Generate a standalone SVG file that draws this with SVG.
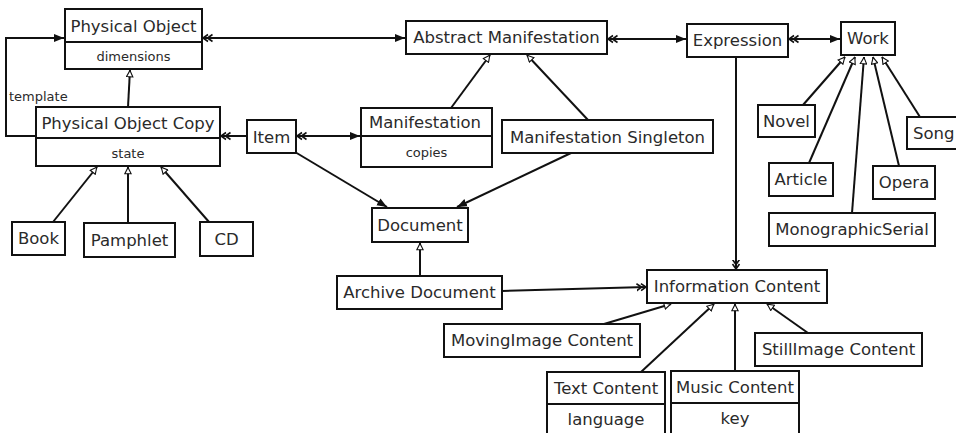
<svg xmlns="http://www.w3.org/2000/svg" width="956" height="433" viewBox="0 0 956 433">
<style>
.box{fill:#fff;stroke:#111;stroke-width:2}
.div{stroke:#111;stroke-width:2}
.t{font-family:"DejaVu Sans",sans-serif;font-size:16.5px;fill:#2a2a2a;text-anchor:middle;dominant-baseline:central}
.s{font-family:"DejaVu Sans",sans-serif;font-size:13px;fill:#2a2a2a;text-anchor:middle;dominant-baseline:central}
.c{fill:none;stroke:#111;stroke-width:2}
.f{marker-end:url(#fill)}
.g{marker-end:url(#gen)}
.d{marker-end:url(#dbl)}
.ds{marker-start:url(#dbl)}
</style>
<defs>
<marker id="fill" viewBox="0 0 10 10" refX="10" refY="5" markerWidth="10" markerHeight="10" markerUnits="userSpaceOnUse" orient="auto-start-reverse">
<path d="M0,1 L10,5 L0,9 z" fill="#111"/>
</marker>
<marker id="gen" viewBox="0 0 10 10" refX="9.5" refY="5" markerWidth="8" markerHeight="8" markerUnits="userSpaceOnUse" orient="auto">
<path d="M1,1 L9,5 L1,9 z" fill="#fff" stroke="#111" stroke-width="1.4"/>
</marker>
<marker id="dbl" viewBox="0 0 10 10" refX="9.5" refY="5" markerWidth="10" markerHeight="10" markerUnits="userSpaceOnUse" orient="auto-start-reverse">
<path d="M0,1.5 L5,5 L0,8.5 M4.5,1.5 L9.5,5 L4.5,8.5" fill="none" stroke="#111" stroke-width="1.6"/>
</marker>
</defs>

<g id="connectors">
<polyline class="c f" points="36,136 6,136 6,38 64,38"/>
<text class="s" x="9" y="96" style="text-anchor:start">template</text>
<line class="c g" x1="128" y1="107" x2="130" y2="70"/>
<line class="c ds f" x1="203" y1="38" x2="405" y2="38"/>
<line class="c ds f" x1="608" y1="39" x2="686" y2="39"/>
<line class="c ds f" x1="789" y1="39" x2="840" y2="39"/>
<line class="c d" x1="247" y1="136" x2="221" y2="136"/>
<line class="c ds f" x1="297" y1="136" x2="360" y2="136"/>
<line class="c g" x1="451" y1="108" x2="490" y2="55"/>
<line class="c g" x1="588" y1="120" x2="527" y2="55"/>
<line class="c f" x1="295" y1="152" x2="387" y2="207"/>
<line class="c f" x1="571" y1="153" x2="457" y2="207"/>
<line class="c g" x1="53" y1="222" x2="97" y2="167"/>
<line class="c g" x1="128" y1="223" x2="128" y2="167"/>
<line class="c g" x1="209" y1="222" x2="161" y2="167"/>
<line class="c g" x1="420" y1="275" x2="420" y2="243"/>
<line class="c g" x1="803" y1="105" x2="845" y2="57"/>
<line class="c g" x1="809" y1="163" x2="855" y2="57"/>
<line class="c g" x1="852" y1="213" x2="864" y2="57"/>
<line class="c g" x1="899" y1="166" x2="873" y2="57"/>
<line class="c g" x1="920" y1="117" x2="882" y2="57"/>
<line class="c d" x1="736" y1="57" x2="736" y2="269"/>
<line class="c d" x1="502" y1="291" x2="646" y2="287"/>
<line class="c g" x1="604" y1="324" x2="671" y2="304"/>
<line class="c g" x1="808" y1="333" x2="767" y2="304"/>
<line class="c g" x1="641" y1="372" x2="714" y2="304"/>
<line class="c g" x1="735" y1="371" x2="735" y2="304"/>
</g>

<g id="physical-object">
<rect class="box" x="65" y="9" width="137" height="60"/>
<line class="div" x1="65" y1="42" x2="202" y2="42"/>
<text class="t" x="133.5" y="26">Physical Object</text>
<text class="s" x="133.5" y="56">dimensions</text>
</g>
<g id="physical-object-copy">
<rect class="box" x="36" y="107" width="184" height="59"/>
<line class="div" x1="36" y1="138" x2="220" y2="138"/>
<text class="t" x="128" y="123">Physical Object Copy</text>
<text class="s" x="128" y="153">state</text>
</g>
<g id="item">
<rect class="box" x="247" y="120" width="49" height="33"/>
<text class="t" x="271.5" y="137">Item</text>
</g>
<g id="manifestation">
<rect class="box" x="361" y="108" width="131" height="59"/>
<line class="div" x1="361" y1="136" x2="492" y2="136"/>
<text class="t" x="425" y="122">Manifestation</text>
<text class="s" x="426.5" y="152">copies</text>
</g>
<g id="manifestation-singleton">
<rect class="box" x="502" y="120" width="211" height="33"/>
<text class="t" x="607.5" y="137">Manifestation Singleton</text>
</g>
<g id="abstract-manifestation">
<rect class="box" x="406" y="21" width="201" height="33"/>
<text class="t" x="506.5" y="37.5">Abstract Manifestation</text>
</g>
<g id="expression">
<rect class="box" x="687" y="24" width="101" height="33"/>
<text class="t" x="737.5" y="40.5">Expression</text>
</g>
<g id="work">
<rect class="box" x="841" y="22" width="54" height="33"/>
<text class="t" x="868" y="38.5">Work</text>
</g>
<g id="novel">
<rect class="box" x="758" y="105" width="57" height="32"/>
<text class="t" x="786.5" y="121">Novel</text>
</g>
<g id="song">
<rect class="box" x="907" y="117" width="60" height="32"/>
<text class="t" x="913" y="133" style="text-anchor:start">Song</text>
</g>
<g id="article">
<rect class="box" x="769" y="163" width="64" height="33"/>
<text class="t" x="801" y="179.5">Article</text>
</g>
<g id="opera">
<rect class="box" x="873" y="166" width="62" height="33"/>
<text class="t" x="904" y="182.5">Opera</text>
</g>
<g id="monographic-serial">
<rect class="box" x="769" y="213" width="166" height="33"/>
<text class="t" x="852" y="229.5">MonographicSerial</text>
</g>
<g id="book">
<rect class="box" x="12" y="222" width="53" height="33"/>
<text class="t" x="38.5" y="238.5">Book</text>
</g>
<g id="pamphlet">
<rect class="box" x="84" y="223" width="91" height="34"/>
<text class="t" x="129.5" y="240">Pamphlet</text>
</g>
<g id="cd">
<rect class="box" x="200" y="222" width="53" height="34"/>
<text class="t" x="226.5" y="239">CD</text>
</g>
<g id="document">
<rect class="box" x="372" y="208" width="96" height="34"/>
<text class="t" x="420" y="225">Document</text>
</g>
<g id="archive-document">
<rect class="box" x="337" y="276" width="165" height="33"/>
<text class="t" x="419.5" y="292.5">Archive Document</text>
</g>
<g id="information-content">
<rect class="box" x="647" y="270" width="180" height="33"/>
<text class="t" x="737" y="286.5">Information Content</text>
</g>
<g id="movingimage-content">
<rect class="box" x="444" y="324" width="196" height="33"/>
<text class="t" x="542" y="340.5">MovingImage Content</text>
</g>
<g id="stillimage-content">
<rect class="box" x="755" y="333" width="167" height="33"/>
<text class="t" x="838.5" y="349.5">StillImage Content</text>
</g>
<g id="text-content">
<rect class="box" x="547" y="372" width="118" height="70"/>
<line class="div" x1="547" y1="404" x2="665" y2="404"/>
<text class="t" x="606" y="388">Text Content</text>
<text class="t" x="606" y="419">language</text>
</g>
<g id="music-content">
<rect class="box" x="671" y="371" width="128" height="70"/>
<line class="div" x1="671" y1="403" x2="799" y2="403"/>
<text class="t" x="735" y="387.5">Music Content</text>
<text class="t" x="735" y="418">key</text>
</g>
</svg>
